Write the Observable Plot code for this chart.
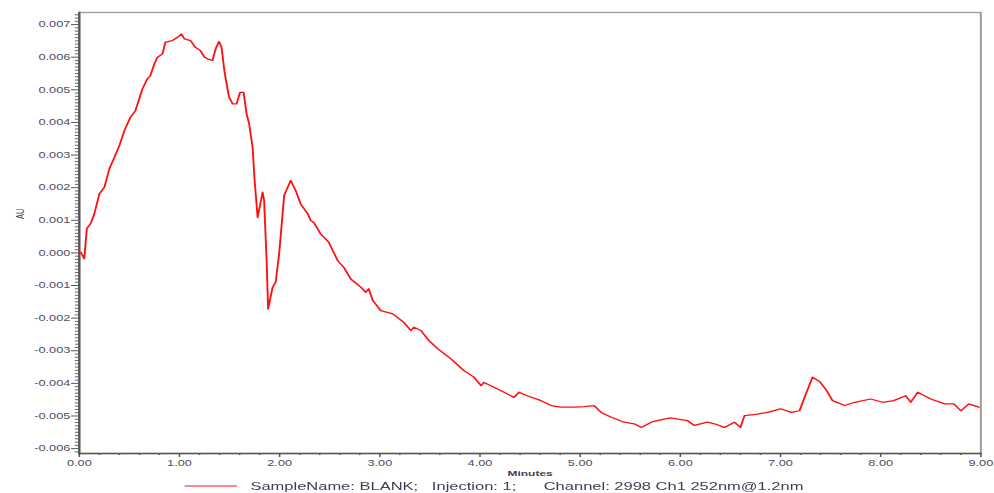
<!DOCTYPE html>
<html><head><meta charset="utf-8">
<script src="https://cdn.jsdelivr.net/npm/d3@7"></script>
<script src="https://cdn.jsdelivr.net/npm/@observablehq/plot@0.6"></script>
<style>
html,body{margin:0;padding:0;background:#fff;}
#wrap{width:663px;transform:scaleX(1.4993);transform-origin:0 0;font-family:"Liberation Sans",Arial,sans-serif;}
#legend{height:15px;display:flex;align-items:center;font-size:11px;color:#3a3f55;white-space:pre;}
#legend svg{margin-left:123px;margin-right:9px;}
</style></head><body><div id="wrap"></div>
<script>
// Retention time (minutes) and detector response (AU)
const minutes = [0.00, 0.015, 0.05, 0.075, 0.115, 0.15, 0.20, 0.25, 0.30, 0.35,
  0.40, 0.45, 0.51, 0.56, 0.63, 0.68, 0.71, 0.75, 0.78, 0.83,
  0.86, 0.93, 0.98, 1.02, 1.05, 1.11, 1.16, 1.21, 1.25, 1.28,
  1.33, 1.36, 1.395, 1.42, 1.45, 1.495, 1.53, 1.57, 1.605, 1.64,
  1.67, 1.695, 1.73, 1.75, 1.78, 1.83, 1.845, 1.87, 1.885, 1.93,
  1.96, 1.995, 2.045, 2.08, 2.11, 2.16, 2.21, 2.28, 2.31, 2.34,
  2.41, 2.49, 2.58, 2.64, 2.71, 2.81, 2.86, 2.89, 2.93, 3.01,
  3.13, 3.24, 3.31, 3.34, 3.41, 3.49, 3.58, 3.71, 3.84, 3.94,
  4.01, 4.04, 4.14, 4.24, 4.34, 4.39, 4.47, 4.61, 4.71, 4.81,
  4.94, 5.04, 5.14, 5.21, 5.31, 5.44, 5.54, 5.61, 5.71, 5.77,
  5.90, 6.07, 6.14, 6.27, 6.34, 6.44, 6.54, 6.60, 6.64, 6.77,
  6.87, 7.00, 7.11, 7.19, 7.24, 7.32, 7.39, 7.46, 7.52, 7.64,
  7.74, 7.90, 8.02, 8.13, 8.25, 8.30, 8.37, 8.50, 8.64, 8.73,
  8.80, 8.88, 8.98];
const au = [0.0000, 0.00002, -0.00018, 0.00075, 0.00091, 0.0012, 0.00181, 0.00201, 0.00258, 0.00293,
  0.00329, 0.00375, 0.00416, 0.00436, 0.00503, 0.00534, 0.00544, 0.0058, 0.006, 0.0061,
  0.00646, 0.00651, 0.00661, 0.00671, 0.00656, 0.00651, 0.0063, 0.0062, 0.006, 0.00595,
  0.0059, 0.00625, 0.00648, 0.0063, 0.00554, 0.00477, 0.00457, 0.00457, 0.00492, 0.00492,
  0.00426, 0.00396, 0.00324, 0.00222, 0.00109, 0.00186, 0.0016, -0.00024, -0.00172, -0.00105,
  -0.0009, -0.00003, 0.00176, 0.00201, 0.00222, 0.00191, 0.0015, 0.0012, 0.00099, 0.00094,
  0.00058, 0.00033, -0.00024, -0.00044, -0.0008, -0.00105, -0.00121, -0.0011, -0.00146, -0.00177,
  -0.00187, -0.00213, -0.00238, -0.00228, -0.00238, -0.00269, -0.00294, -0.00325, -0.00361, -0.00381,
  -0.00407, -0.00397, -0.00412, -0.00427, -0.00443, -0.00427, -0.00438, -0.00453, -0.00468, -0.00473,
  -0.00473, -0.00471, -0.00468, -0.00489, -0.00504, -0.00519, -0.00524, -0.00535, -0.00519, -0.00514,
  -0.00506, -0.00514, -0.00529, -0.00519, -0.00524, -0.00535, -0.00519, -0.00535, -0.00499, -0.00494,
  -0.00489, -0.00478, -0.00489, -0.00484, -0.00443, -0.00381, -0.00394, -0.00422, -0.00453, -0.00468,
  -0.00458, -0.00448, -0.00458, -0.00453, -0.00438, -0.00458, -0.00427, -0.00448, -0.00463, -0.00463,
  -0.00484, -0.00463, -0.00473];

const xTicks = [0, 1, 2, 3, 4, 5, 6, 7, 8, 9];
const xTickLabels = ["0.00", "1.00", "2.00", "3.00", "4.00", "5.00", "6.00", "7.00", "8.00", "9.00"];
const yTicks = [-0.006, -0.005, -0.004, -0.003, -0.002, -0.001, 0, 0.001, 0.002, 0.003, 0.004, 0.005, 0.006, 0.007];
const yTickLabels = ["-0.006", "-0.005", "-0.004", "-0.003", "-0.002", "-0.001", "0.000", "0.001", "0.002", "0.003", "0.004", "0.005", "0.006", "0.007"];
const xLabel = "Minutes";
const yLabel = "AU";
const legendText = "SampleName: BLANK;   Injection: 1;      Channel: 2998 Ch1 252nm@1.2nm";

const rows = minutes.map((t, i) => ({t, v: au[i]}));
const xFmt = new Map(xTicks.map((d, i) => [d, xTickLabels[i]]));
const yFmt = new Map(yTicks.map((d, i) => [d, yTickLabels[i]]));
const xMinor = d3.range(0, 46).map(i => i * 0.2).filter(d => Math.abs(d - Math.round(d)) > 1e-6 && d <= 9);
const yMinor = d3.range(-61, 74).map(i => i / 10000).filter(d => Math.abs(d * 1000 - Math.round(d * 1000)) > 1e-6);

const plot = Plot.plot({
  width: 663,
  height: 478,
  marginLeft: 52.4,
  marginRight: 9.3,
  marginTop: 12,
  marginBottom: 25,
  style: {fontFamily: "'Liberation Sans', Arial, sans-serif", fontSize: "8.5px", color: "#4d5062", background: "#fff"},
  x: {domain: [0, 9]},
  y: {domain: [-0.00615, 0.00737]},
  marks: [
    Plot.frame({stroke: "#9a9a9a", strokeWidth: 1.3}),
    Plot.axisY(yMinor, {tickSize: 2.5, fill: "none", label: null, stroke: "#666"}),
    Plot.axisY(yTicks, {tickSize: 5, tickPadding: 1, tickFormat: d => yFmt.get(d), label: null, stroke: "#555"}),
    Plot.axisX(xMinor, {tickSize: 2, fill: "none", label: null, stroke: "#555"}),
    Plot.axisX(xTicks, {tickSize: 4, tickPadding: 2, tickFormat: d => xFmt.get(d), label: null, stroke: "#555"}),
    Plot.frame({anchor: "left", stroke: "#555", strokeWidth: 1.5}),
    Plot.frame({anchor: "bottom", stroke: "#555", strokeWidth: 1.5}),
    Plot.text([xLabel], {text: d => d, frameAnchor: "bottom", dy: 20, lineAnchor: "middle", fontSize: 8, fill: "#3f4255", fontWeight: "bold"}),
    Plot.text([yLabel], {text: d => d, frameAnchor: "left", dx: -39.5, dy: -14, rotate: -90, lineAnchor: "middle", fontSize: 7.5, fill: "#3f4255"}),
    Plot.line(rows, {x: "t", y: "v", stroke: "#ff1010", strokeWidth: 1.25})
  ]
});

const wrap = document.getElementById("wrap");
wrap.appendChild(plot);
const legend = document.createElement("div");
legend.id = "legend";
legend.innerHTML = '<svg width="35" height="4"><line x1="0" x2="35" y1="2" y2="2" stroke="#ff1010" stroke-width="1"/></svg>';
const span = document.createElement("span");
span.textContent = legendText;
legend.appendChild(span);
wrap.appendChild(legend);
</script>
</body></html>
